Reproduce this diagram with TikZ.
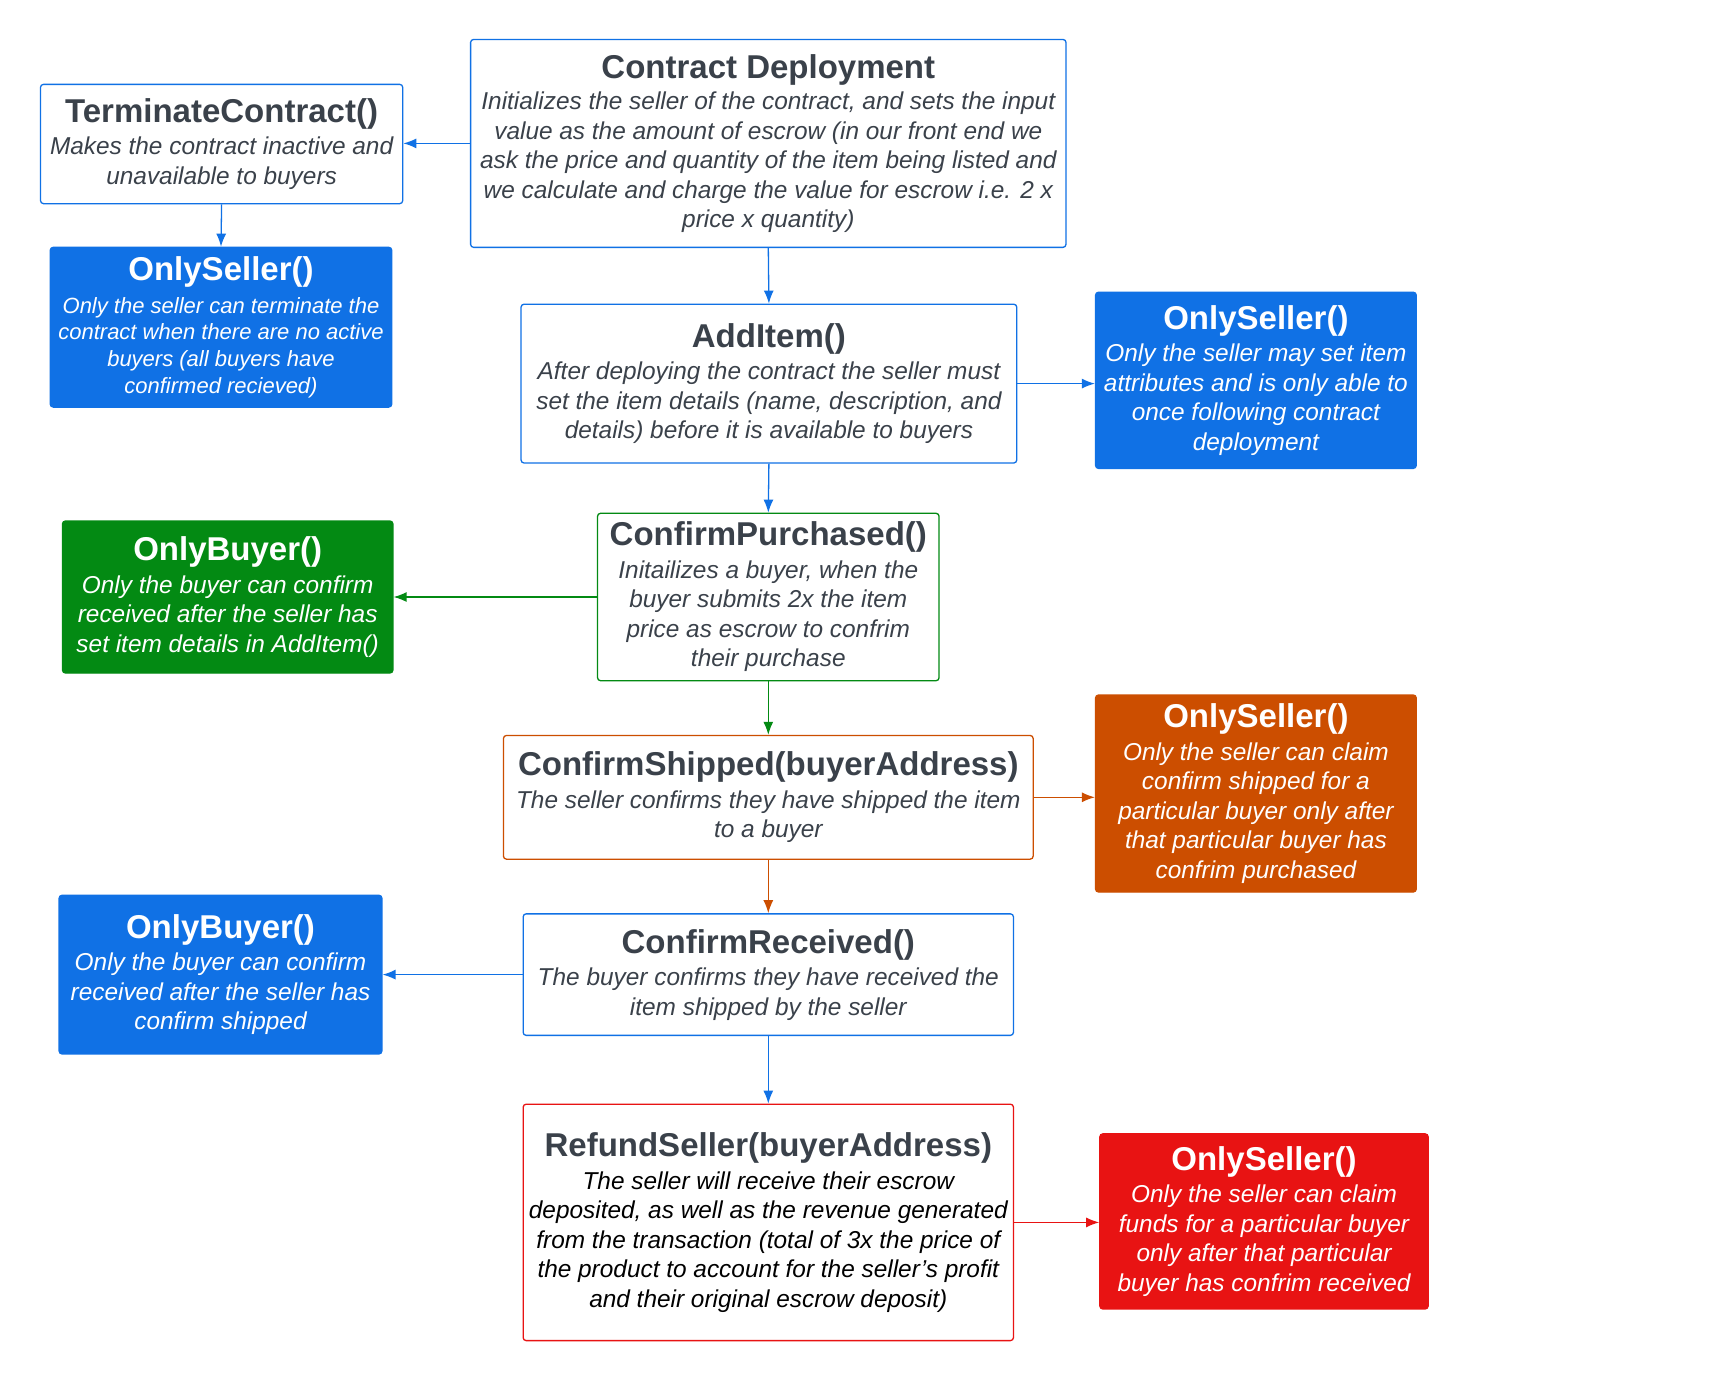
\documentclass[tikz,border=0pt]{standalone}
\usepackage{fontspec}
\setmainfont{Liberation Sans}
\usetikzlibrary{arrows.meta}
\definecolor{cblue}{HTML}{1071E5}
\definecolor{cgreen}{HTML}{038A13}
\definecolor{corange}{HTML}{CC4E00}
\definecolor{cred}{HTML}{E81313}
\definecolor{txt}{HTML}{3A414A}
\newcommand\bodyf{\fontsize{24.4}{29.5}\selectfont\itshape}
\newcommand\smallbodyf{\fontsize{22}{26.7}\selectfont\itshape}
\newcommand\titlef{\fontsize{33}{40}\selectfont\upshape\bfseries}
\newcommand\tgap{\\[3pt]}
\tikzset{
  wbox/.style={draw=#1, fill=white, rounded corners=3pt, line width=1.3pt,
    align=center, inner sep=0pt, text=txt, font=\bodyf},
  fbox/.style={draw=#1, fill=#1, rounded corners=3pt, line width=1.3pt,
    align=center, inner sep=0pt, text=white, font=\bodyf},
  conn/.style={draw=#1, line width=1.3pt, -{Latex[length=13pt,width=10pt]}},
}
\begin{document}
\begin{tikzpicture}[x=1pt,y=-1pt]
\useasboundingbox (0,0) rectangle (1716,1381);
\fill[white] (0,0) rectangle (1716,1381);

\node[wbox=cblue, minimum width=595.4pt, minimum height=207.9pt] (cd) at (768.3,143.4)
 {{\titlef Contract Deployment}\\[2pt]
  Initializes the seller of the contract, and sets the input\\
  value as the amount of escrow (in our front end we\\
  ask the price and quantity of the item being listed and\\
  we calculate and charge the value for escrow i.e. 2 x\\
  price x quantity)};

\node[wbox=cblue, minimum width=362.2pt, minimum height=119.3pt] (tc) at (221.6,144)
 {{\titlef TerminateContract()}\tgap
  Makes the contract inactive and\\
  unavailable to buyers};

\node[fbox=cblue, minimum width=341.5pt, minimum height=159.8pt, font=\smallbodyf] (os1) at (221,327.2)
 {{\titlef OnlySeller()}\\[6pt]
  Only the seller can terminate the\\
  contract when there are no active\\
  buyers (all buyers have\\
  confirmed recieved)};

\node[wbox=cblue, minimum width=495.7pt, minimum height=158.8pt] (ai) at (768.9,383.6)
 {{\titlef AddItem()}\tgap
  After deploying the contract the seller must\\
  set the item details (name, description, and\\
  details) before it is available to buyers};

\node[fbox=cblue, minimum width=320.7pt, minimum height=176.2pt] (os2) at (1255.9,380.3)
 {{\titlef OnlySeller()}\tgap
  Only the seller may set item\\
  attributes and is only able to\\
  once following contract\\
  deployment};

\node[wbox=cgreen, minimum width=341.5pt, minimum height=167.4pt] (cp) at (768.3,597)
 {{\titlef ConfirmPurchased()}\tgap
  Initailizes a buyer, when the\\
  buyer submits 2x the item\\
  price as escrow to confrim\\
  their purchase};

\node[fbox=cgreen, minimum width=330.5pt, minimum height=152pt] (ob1) at (227.7,597)
 {{\titlef OnlyBuyer()}\tgap
  Only the buyer can confirm\\
  received after the seller has\\
  set item details in AddItem()};

\node[wbox=corange, minimum width=529.7pt, minimum height=123.7pt] (cs) at (768.3,797.3)
 {{\titlef ConfirmShipped(buyerAddress)}\tgap
  The seller confirms they have shipped the item\\
  to a buyer};

\node[fbox=corange, minimum width=320.7pt, minimum height=197pt] (os3) at (1255.9,793.5)
 {{\titlef OnlySeller()}\tgap
  Only the seller can claim\\
  confirm shipped for a\\
  particular buyer only after\\
  that particular buyer has\\
  confrim purchased};

\node[wbox=cblue, minimum width=490.3pt, minimum height=121.5pt] (cr) at (768.3,974.6)
 {{\titlef ConfirmReceived()}\tgap
  The buyer confirms they have received the\\
  item shipped by the seller};

\node[fbox=cblue, minimum width=322.8pt, minimum height=158.7pt] (ob2) at (220.5,974.6)
 {{\titlef OnlyBuyer()}\tgap
  Only the buyer can confirm\\
  received after the seller has\\
  confirm shipped};

\node[wbox=cred, minimum width=490.3pt, minimum height=236.4pt, text=black] (rs) at (768.3,1222.4)
 {{\color{txt}\titlef RefundSeller(buyerAddress)}\tgap
  The seller will receive their escrow\\
  deposited, as well as the revenue generated\\
  from the transaction (total of 3x the price of\\
  the product to account for the seller’s profit\\
  and their original escrow deposit)};

\node[fbox=cred, minimum width=328.3pt, minimum height=175.1pt] (os4) at (1264,1221.4)
 {{\titlef OnlySeller()}\tgap
  Only the seller can claim\\
  funds for a particular buyer\\
  only after that particular\\
  buyer has confrim received};

% connectors
\draw[conn=cblue] (cd.west) -- (cd.west -| tc.east);
\draw[conn=cblue] (tc.south) -- (os1.north);
\draw[conn=cblue] (cd.south) -- (ai.north);
\draw[conn=cblue] (ai.east) -- (ai.east -| os2.west);
\draw[conn=cblue] (ai.south) -- (cp.north);
\draw[conn=cgreen] (cp.west) -- (cp.west -| ob1.east);
\draw[conn=cgreen] (cp.south) -- (cs.north);
\draw[conn=corange] (cs.east) -- (cs.east -| os3.west);
\draw[conn=corange] (cs.south) -- (cr.north);
\draw[conn=cblue] (cr.west) -- (cr.west -| ob2.east);
\draw[conn=cblue] (cr.south) -- (rs.north);
\draw[conn=cred] (rs.east) -- (rs.east -| os4.west);
\end{tikzpicture}
\end{document}
